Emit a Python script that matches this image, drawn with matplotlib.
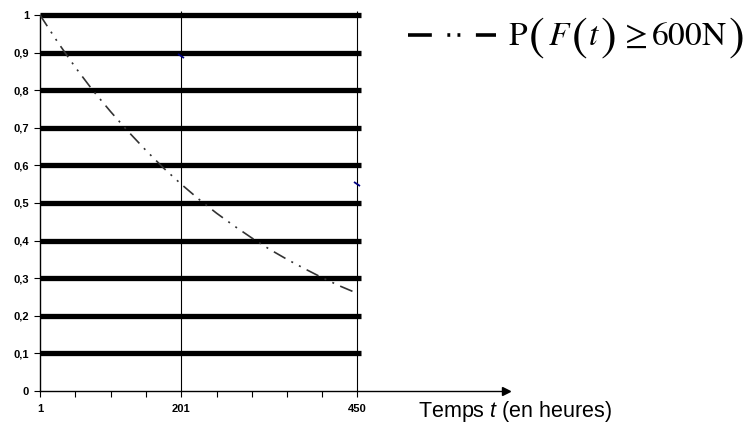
# -*- coding: utf-8 -*-
"""
Survival probability curve P(F(t) >= 600N) versus time in hours
"""

import matplotlib.pyplot as plt
from matplotlib.lines import Line2D
from matplotlib.markers import MarkerStyle
from matplotlib.transforms import Affine2D

# values
hours = [1, 26, 51, 76, 101, 126, 151, 176, 201, 226,
         251, 276, 301, 326, 351, 376, 401, 426, 450]
prob = [1.0, 0.928, 0.861, 0.799, 0.743, 0.690, 0.640, 0.593, 0.550, 0.510,
        0.473, 0.439, 0.407, 0.377, 0.350, 0.325, 0.301, 0.279, 0.260]

# thick horizontal bars
bar_levels = [0.1, 0.2, 0.3, 0.4, 0.5, 0.6, 0.7, 0.8, 0.9, 1.0]
# reference verticals
vert_hours = [201, 450]
# small blue marks on the verticals
mark_hours = [201, 450]
mark_prob = [0.89, 0.55]

y_ticks = [0, 0.1, 0.2, 0.3, 0.4, 0.5, 0.6, 0.7, 0.8, 0.9, 1.0]
y_labels = ["0", "0,1", "0,2", "0,3", "0,4", "0,5", "0,6", "0,7", "0,8", "0,9", "1"]
x_ticks = [1, 51, 101, 151, 201, 251, 301, 351, 401, 450]
x_labels = ["1", "", "", "", "201", "", "", "", "", "450"]

# legend formula split in pieces so the brackets can be drawn taller
# (text, is_bracket, gap after in px)
formula = [(r"$\mathrm{P}$", False, 0),
           (r"$($", True, 3),
           (r"$F$", False, 0),
           (r"$($", True, 1),
           (r"$t$", False, 0),
           (r"$)$", True, 4),
           (r"$\geq$", False, 3),
           (r"$600\mathrm{N}$", False, 2),
           (r"$)$", True, 0)]
x_title = r"Temps $t$ (en heures)"

plt.rcParams["mathtext.fontset"] = "custom"
plt.rcParams["mathtext.rm"] = "Liberation Sans"
plt.rcParams["mathtext.it"] = "Liberation Sans:italic"

W, H = 749, 428
fig = plt.figure(figsize=(W / 100, H / 100), dpi=100)
ax = fig.add_axes([40 / W, 1 - 391 / H, 466 / W, 376 / H])
ax.set_xlim(1, 661)
ax.set_ylim(0, 1)
for side in ["top", "right"]:
    ax.spines[side].set_visible(False)
ax.spines["left"].set_linewidth(1.0)
ax.spines["bottom"].set_linewidth(1.0)

# axis arrow
ax.plot(1, 0, marker=">", color="black", markersize=6,
        transform=ax.transAxes, clip_on=False)

ax.hlines(bar_levels, 1, 456, colors="black", lw=3.8, clip_on=False, zorder=2)
ax.vlines(vert_hours, 0, 1.01, colors="black", lw=0.8, clip_on=False, zorder=2)

ax.plot(hours, prob, color="#333333", lw=1.2,
        dashes=(8, 4, 1.2, 4, 1.2, 4), zorder=3)

seg = MarkerStyle("_", transform=Affine2D().rotate_deg(-40))
ax.plot(mark_hours, mark_prob, ls="none", marker=seg, markersize=5,
        markeredgewidth=1.3, color="#000080", zorder=4)

ax.set_yticks(y_ticks)
ax.set_yticklabels(y_labels)
ax.set_xticks(x_ticks)
ax.set_xticklabels(x_labels)
ax.tick_params(axis="both", direction="out", length=4, width=0.8,
               labelsize=8)
ax.tick_params(axis="x", pad=5)
ax.tick_params(axis="y", pad=4)
for lab in ax.get_xticklabels() + ax.get_yticklabels():
    lab.set_fontweight("bold")
    lab.set_family("Liberation Sans")

# legend sample line (label drawn separately below)
handle = Line2D([0], [0], color="black", lw=2.6,
                dashes=(6.6, 4.3, 0.8, 2, 0.8, 4.3))
leg = fig.legend(handles=[handle], labels=[""],
                 loc="center left", bbox_to_anchor=(408 / W, 1 - 37 / H),
                 frameon=False, fontsize=21, handlelength=3.0,
                 handletextpad=0.0, borderpad=0, borderaxespad=0)

renderer = fig.canvas.get_renderer()
x_px = 508
base_px = 45
for piece, bracket, gap in formula:
    size = 34 if bracket else 24
    y_px = base_px + 5 if bracket else base_px
    t = fig.text(x_px / W, 1 - y_px / H, piece, fontsize=size,
                 va="baseline", ha="left", math_fontfamily="stix")
    bb = t.get_window_extent(renderer)
    x_px = bb.x1 + gap

fig.text(418 / W, 1 - 412 / H, x_title, fontsize=15.5, family="Liberation Sans",
         math_fontfamily="custom", va="center")

fig.savefig("out.png", dpi=100)
